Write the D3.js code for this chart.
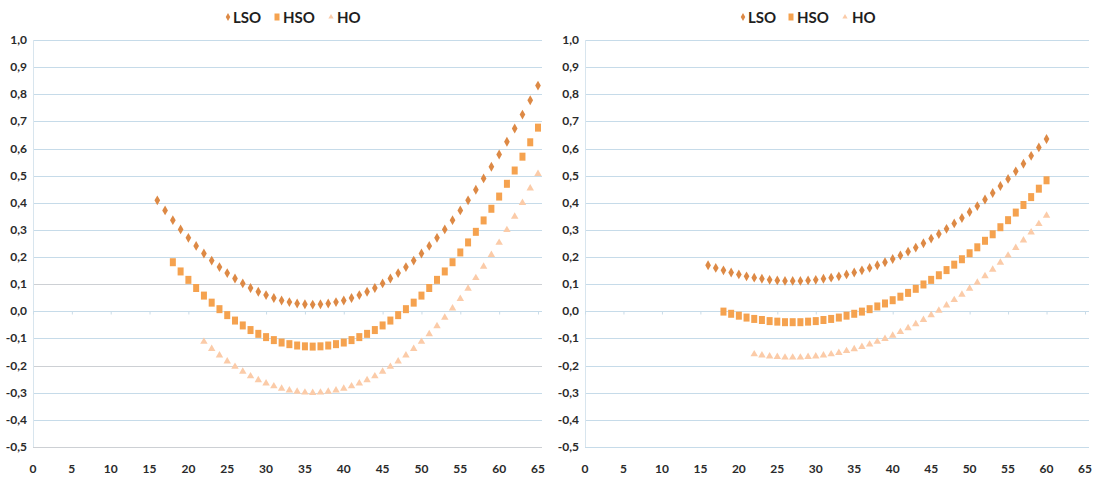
<!DOCTYPE html>
<html><head><meta charset="utf-8">
<script src="https://cdn.jsdelivr.net/npm/d3@7"></script>
<style>body{margin:0;background:#fff}svg{display:block}</style>
</head><body>
<svg id="c" width="1107" height="480"></svg>
<script>
const seriesNames = ["LSO", "HSO", "HO"];
const yTicks = [1.0,0.9,0.8,0.7,0.6,0.5,0.4,0.3,0.2,0.1,0.0,-0.1,-0.2,-0.3,-0.4,-0.5];
const xTicks = [0,5,10,15,20,25,30,35,40,45,50,55,60,65];

// Left panel (first x value of each series, then consecutive ages)
const leftLsoStart = 16;
const leftLso = [0.409,0.372,0.336,0.302,0.271,0.241,0.213,0.187,0.163,0.141,0.121,0.103,0.086,0.072,0.060,0.049,0.040,0.034,0.029,0.026,0.025,0.026,0.029,0.034,0.040,0.049,0.060,0.072,0.086,0.103,0.121,0.141,0.163,0.187,0.213,0.241,0.271,0.302,0.336,0.372,0.409,0.448,0.490,0.533,0.578,0.625,0.674,0.725,0.778,0.832];
const leftHsoStart = 18;
const leftHso = [0.181,0.147,0.116,0.086,0.058,0.032,0.008,-0.014,-0.034,-0.052,-0.069,-0.083,-0.095,-0.106,-0.115,-0.121,-0.126,-0.129,-0.130,-0.129,-0.126,-0.121,-0.115,-0.106,-0.095,-0.083,-0.069,-0.052,-0.034,-0.014,0.008,0.032,0.058,0.086,0.116,0.147,0.181,0.217,0.254,0.293,0.335,0.378,0.423,0.470,0.519,0.570,0.623,0.677];
const leftHoStart = 22;
const leftHo = [-0.112,-0.138,-0.162,-0.184,-0.204,-0.222,-0.239,-0.253,-0.265,-0.276,-0.285,-0.291,-0.296,-0.299,-0.300,-0.299,-0.296,-0.291,-0.285,-0.276,-0.265,-0.253,-0.239,-0.222,-0.204,-0.184,-0.162,-0.138,-0.112,-0.084,-0.054,-0.023,0.011,0.046,0.084,0.123,0.165,0.208,0.253,0.300,0.349,0.400,0.453,0.507];

// Right panel
const rightLsoStart = 16;
const rightLso = [0.170,0.160,0.151,0.143,0.136,0.129,0.124,0.120,0.116,0.114,0.112,0.112,0.112,0.114,0.116,0.120,0.124,0.129,0.136,0.143,0.151,0.160,0.170,0.181,0.193,0.206,0.220,0.235,0.251,0.268,0.285,0.304,0.324,0.344,0.366,0.388,0.412,0.436,0.462,0.488,0.516,0.544,0.573,0.604,0.635];
const rightHsoStart = 18;
const rightHso = [-0.001,-0.009,-0.016,-0.023,-0.028,-0.032,-0.036,-0.038,-0.040,-0.040,-0.040,-0.038,-0.036,-0.032,-0.028,-0.023,-0.016,-0.009,-0.001,0.008,0.018,0.029,0.041,0.054,0.068,0.083,0.099,0.116,0.133,0.152,0.172,0.192,0.214,0.236,0.260,0.284,0.310,0.336,0.364,0.392,0.421,0.452,0.483];
const rightHoStart = 22;
const rightHo = [-0.158,-0.162,-0.166,-0.168,-0.170,-0.170,-0.170,-0.168,-0.166,-0.162,-0.158,-0.153,-0.146,-0.139,-0.131,-0.122,-0.112,-0.101,-0.089,-0.076,-0.062,-0.047,-0.031,-0.014,0.003,0.022,0.042,0.062,0.084,0.106,0.130,0.154,0.180,0.206,0.234,0.262,0.291,0.322,0.353];

const colors = {LSO:"#dd8945", HSO:"#f5a24f", HO:"#fbcba8"};
const font = "Lato,'Liberation Sans Narrow',sans-serif";
const svg = d3.select("#c");

function panel(opts){
  const g = svg.append("g");
  const x = d3.scaleLinear().domain([0,65]).range([opts.x0, opts.x1]);
  const y = d3.scaleLinear().domain([-0.5,1.0]).range([447, 40]);
  // gridlines
  g.selectAll("line.grid").data(yTicks.filter(v=>Math.abs(v)>1e-9)).enter().append("line")
    .attr("x1", opts.x0).attr("x2", opts.x1+4)
    .attr("y1", d=>Math.round(y(d))+0.5).attr("y2", d=>Math.round(y(d))+0.5)
    .attr("stroke", d=> opts.gray.some(v=>Math.abs(v-d)<1e-9) ? "#cdd0d4" : "#c6dbe9")
    .attr("stroke-width", 1.2);
  // y axis line
  g.append("line").attr("x1", opts.x0+0.5).attr("x2", opts.x0+0.5).attr("y1", y(1.0)).attr("y2", y(-0.5))
    .attr("stroke", "#d8e5ee").attr("stroke-width", 1);
  // x axis at zero
  const xAxis = d3.axisBottom(x).tickValues(xTicks).tickSize(3).tickFormat("");
  const xa = g.append("g").attr("transform", `translate(0,${Math.round(y(0))+0.5})`).call(xAxis);
  xa.select(".domain").attr("stroke", "#c6dbe9").attr("d", `M${opts.x0},0H${opts.x1+4}`);
  xa.selectAll(".tick line").attr("stroke", "#cadce8");
  // y labels
  const fmt = v => d3.format(".1f")(v).replace(".", ",").replace("−","-");
  g.selectAll("text.yl").data(yTicks).enter().append("text")
    .attr("x", opts.x0-6).attr("y", d=>y(d)+4).attr("text-anchor","end")
    .attr("font-family", font).attr("font-weight","bold").attr("font-size", 12).attr("fill","#2a2a2a")
    .text(fmt);
  // x labels
  g.selectAll("text.xl").data(xTicks).enter().append("text")
    .attr("x", d=>x(d)).attr("y", 473).attr("text-anchor","middle")
    .attr("font-family", font).attr("font-weight","bold").attr("font-size", 12).attr("fill","#2a2a2a")
    .text(d=>d);
  // series
  const sym = {
    LSO: d3.symbol().type(d3.symbolDiamond).size(28),
    HO: d3.symbol().type(d3.symbolTriangle).size(24)
  };
  opts.series.forEach(s=>{
    const pts = s.values.map((v,i)=>({x:s.start+i, y:v}));
    g.selectAll(null).data(pts).enter().append("path")
      .attr("d", s.name==="HSO" ? "M-3,-4H3V4H-3Z" : sym[s.name]())
      .attr("transform", d=>`translate(${x(d.x)},${y(d.y)})`)
      .attr("fill", colors[s.name]);
  });
  // legend
  const lg = g.append("g");
  opts.legend.forEach((L,i)=>{
    const name = seriesNames[i];
    lg.append("path").attr("d", name==="HSO" ? "M-2.5,-3.5H2.5V3.5H-2.5Z" : (name==="LSO" ? d3.symbol().type(d3.symbolDiamond).size(18)() : d3.symbol().type(d3.symbolTriangle).size(12)()))
      .attr("transform", `translate(${L[0]},17)`).attr("fill", colors[name]);
    lg.append("text").attr("x", L[1]).attr("y", 22.5)
      .attr("font-family", font).attr("font-weight","bold").attr("font-size", 15).attr("fill","#1f1f1f")
      .text(name);
  });
}

panel({x0:33, x1:538, gray:[0.1,-0.2,-0.5],
  series:[{name:"LSO",start:leftLsoStart,values:leftLso},{name:"HSO",start:leftHsoStart,values:leftHso},{name:"HO",start:leftHoStart,values:leftHo}],
  legend:[[228,233],[277,283],[331,337]]});
panel({x0:585, x1:1085, gray:[],
  series:[{name:"LSO",start:rightLsoStart,values:rightLso},{name:"HSO",start:rightHsoStart,values:rightHso},{name:"HO",start:rightHoStart,values:rightHo}],
  legend:[[743,748],[791,797],[845,852]]});
</script>
</body></html>
